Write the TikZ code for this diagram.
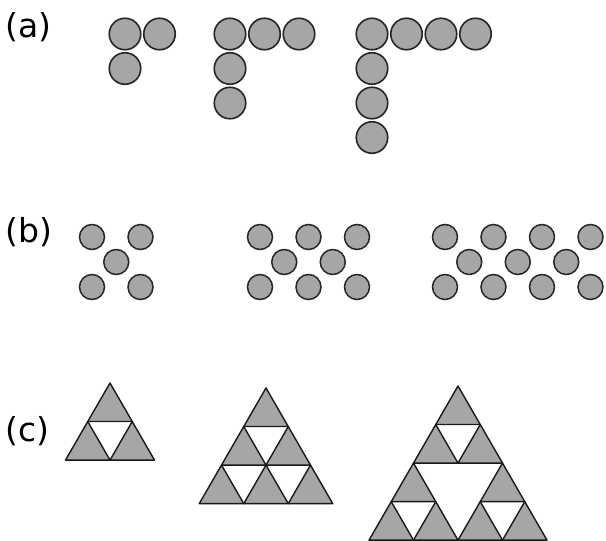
\documentclass[tikz,border=0pt]{standalone}
\usepackage{fontspec}
\setmainfont{DejaVu Sans}
\definecolor{beadgray}{RGB}{166,166,166}
\tikzset{
  bead/.style={circle, draw=black!85, fill=beadgray, line width=1.6pt, inner sep=0pt, minimum size=31.5pt},
  dot/.style={circle, draw=black!85, fill=beadgray, line width=1.5pt, inner sep=0pt, minimum size=25pt},
  cell/.style={fill=beadgray, draw=black!90, line width=1.4pt, line join=round},
  tag/.style={anchor=west, inner sep=0pt, font=\fontsize{33}{40}\selectfont}
}
\begin{document}
\begin{tikzpicture}[x=1pt, y=-1pt]
\useasboundingbox (0,0) rectangle (606,541);

% (a) corner-shaped rows of beads
\node[tag] (la) at (5,27) {(a)};
\def\s{34.5}
\foreach \cx/\n in {125/1, 230/2, 372/3}{
	\foreach \k in {0,...,\n}
		\node[bead] (a\n-h\k) at (\cx+\k*\s, 34) {};
	\foreach \k in {1,...,\n}
		\node[bead] (a\n-v\k) at (\cx, 34+\k*\s) {};
}

% (b) zig-zag rows
\node[tag] (lb) at (5,232) {(b)};
\def\d{48.5}
\foreach \cx/\n in {92/2, 260/3, 445/4}{
	\foreach \k in {1,...,\n}{
		\node[dot] (b\n-t\k) at (\cx+\k*\d-\d, 237) {};
		\node[dot] (b\n-b\k) at (\cx+\k*\d-\d, 287) {};
	}
	\pgfmathtruncatemacro\nm{\n-1}
	\foreach \k in {1,...,\nm}
		\node[dot] (b\n-m\k) at (\cx+\k*\d-0.5*\d, 262) {};
}

% (c) triangles of triangles
\node[tag] (lc) at (5,431) {(c)};
\def\t{44.5}
\def\h{38.54}
\foreach \ax/\ay/\n in {110/383/2, 266/388/3, 458/386/4}{
	\pgfmathtruncatemacro\last{\n-1}
	\foreach \r in {0,...,\last}{
		\foreach \j in {0,...,\r}{
			\pgfmathtruncatemacro\code{100*\n+10*\r+\j}
			\ifnum\code=421 \else
				\filldraw[cell] (\ax+\j*\t-\r*\t/2, \ay+\r*\h) -- ++(0.5*\t, \h) -- ++(-\t, 0) -- cycle;
			\fi
		}
	}
}

\end{tikzpicture}
\end{document}
